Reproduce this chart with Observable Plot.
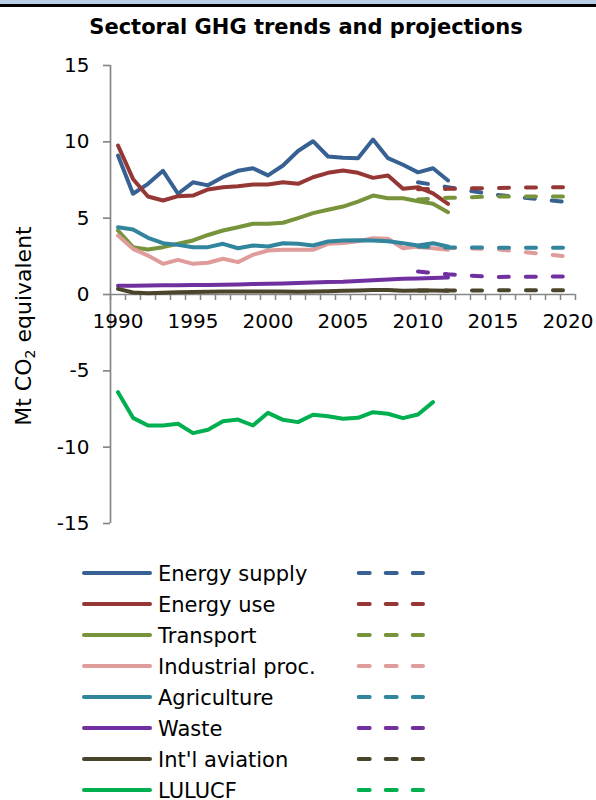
<!DOCTYPE html>
<html><head><meta charset="utf-8">
<script src="https://cdn.jsdelivr.net/npm/d3@7"></script>
<script src="https://cdn.jsdelivr.net/npm/@observablehq/plot@0.6"></script>
<style>
html,body{margin:0;padding:0;overflow:hidden;background:#fff;width:596px;height:800px;}
body{position:relative;font-family:"DejaVu Sans",Verdana,sans-serif;color:#000;}
#band{position:absolute;left:0;top:0;width:596px;height:4px;background:#B8CCE4;}
#rule{position:absolute;left:0;top:4px;width:596px;height:3px;background:#000;}
#title{position:absolute;top:8px;left:306px;transform:translateX(-50%);white-space:nowrap;font-weight:bold;font-size:21px;line-height:38px;}
#ylabel{position:absolute;left:24px;top:326px;transform:translate(-50%,-50%) rotate(-90deg);white-space:nowrap;font-size:22px;line-height:22px;}
#ylabel sub{font-size:14px;vertical-align:-4px;line-height:0;}
#chart{position:absolute;top:45px;left:0;}
#legend{position:absolute;top:558px;left:0;width:596px;}
.row{position:relative;height:31px;}
.row svg{position:absolute;left:0;top:0;}
.row span{position:absolute;left:158px;top:1px;line-height:31px;font-size:21px;white-space:nowrap;}
</style></head><body>
<div id="band"></div><div id="rule"></div>
<div id="title">Sectoral GHG trends and projections</div>
<div id="chart"></div>
<div id="ylabel"></div>
<div id="legend"></div>
<script>
const years = [1990,1991,1992,1993,1994,1995,1996,1997,1998,1999,2000,2001,2002,2003,2004,2005,2006,2007,2008,2009,2010,2011,2012];
const lulucfYears = [1990,1991,1992,1993,1994,1995,1996,1997,1998,1999,2000,2001,2002,2003,2004,2005,2006,2007,2008,2009,2010,2011];
const projYears = [2010, 2012, 2015, 2020];

const energySupply = [9.1, 6.6, 7.25, 8.1, 6.6, 7.35, 7.15, 7.7, 8.1, 8.27, 7.8, 8.45, 9.4, 10.04, 9.04, 8.95, 8.93, 10.15, 8.93, 8.5, 8.0, 8.27, 7.47];
const energyUse = [9.76, 7.57, 6.42, 6.16, 6.44, 6.48, 6.88, 7.03, 7.09, 7.2, 7.2, 7.35, 7.25, 7.68, 7.97, 8.12, 7.97, 7.64, 7.79, 6.92, 7.03, 6.63, 5.94];
const transport = [4.19, 3.1, 2.95, 3.1, 3.32, 3.54, 3.9, 4.19, 4.4, 4.63, 4.63, 4.7, 5.0, 5.33, 5.55, 5.76, 6.09, 6.48, 6.31, 6.31, 6.11, 5.94, 5.39];
const industrial = [3.86, 2.99, 2.55, 2.01, 2.27, 2.01, 2.08, 2.34, 2.12, 2.6, 2.88, 2.93, 2.93, 2.93, 3.32, 3.38, 3.49, 3.69, 3.65, 3.03, 3.14, 3.03, 2.93];
const agriculture = [4.41, 4.26, 3.71, 3.36, 3.25, 3.1, 3.1, 3.32, 3.03, 3.21, 3.14, 3.36, 3.32, 3.21, 3.47, 3.54, 3.56, 3.54, 3.49, 3.36, 3.21, 3.36, 3.14];
const waste = [0.57, 0.58, 0.59, 0.6, 0.61, 0.62, 0.63, 0.64, 0.66, 0.68, 0.7, 0.72, 0.76, 0.79, 0.82, 0.83, 0.88, 0.93, 0.98, 1.03, 1.05, 1.08, 1.12];
const aviation = [0.37, 0.13, 0.08, 0.12, 0.15, 0.17, 0.18, 0.19, 0.2, 0.2, 0.2, 0.19, 0.18, 0.19, 0.21, 0.24, 0.27, 0.3, 0.29, 0.25, 0.26, 0.27, 0.25];
const lulucf = [-6.4, -8.08, -8.58, -8.58, -8.47, -9.08, -8.86, -8.3, -8.19, -8.58, -7.75, -8.21, -8.36, -7.88, -7.97, -8.14, -8.08, -7.71, -7.81, -8.1, -7.86, -7.05];

const energySupplyProj = [7.35, 7.03, 6.55, 6.05];
const energyUseProj = [6.9, 6.92, 6.98, 7.03];
const transportProj = [6.22, 6.33, 6.42, 6.42];
const industrialProj = [3.1, 3.05, 2.99, 2.49];
const agricultureProj = [3.14, 3.08, 3.07, 3.07];
const wasteProj = [1.5, 1.32, 1.15, 1.18];
const aviationProj = [0.26, 0.26, 0.27, 0.28];
const lulucfProj = [];

const seriesNames = ["Energy supply","Energy use","Transport","Industrial proc.","Agriculture","Waste","Int'l aviation","LULUCF"];
const seriesColors = ["#386193","#953735","#77933C","#E09C9A","#31859C","#7030A0","#4A452A","#00B050"];
const historical = [energySupply, energyUse, transport, industrial, agriculture, waste, aviation, lulucf];
const projections = [energySupplyProj, energyUseProj, transportProj, industrialProj, agricultureProj, wasteProj, aviationProj, lulucfProj];

const yTicks = [-15, -10, -5, 0, 5, 10, 15];
const xLabels = [1990, 1995, 2000, 2005, 2010, 2015, 2020];
const xBoundaries = d3.range(1989.5, 2021, 1);

const axisColor = "#868686";
const font = "DejaVu Sans, Verdana, sans-serif";

document.getElementById("ylabel").innerHTML = "Mt CO<sub>2</sub> equivalent";

const lineMarks = [];
historical.forEach((vals, s) => {
  const yrs = s === 7 ? lulucfYears : years;
  const data = vals.map((v, i) => ({year: yrs[i], value: v}));
  lineMarks.push(Plot.line(data, {x: "year", y: "value", stroke: seriesColors[s], strokeWidth: 4, strokeLinejoin: "round", strokeLinecap: "round"}));
});
projections.forEach((vals, s) => {
  if (!vals.length) return;
  const data = vals.map((v, i) => ({year: projYears[i], value: v}));
  lineMarks.push(Plot.line(data, {x: "year", y: "value", stroke: seriesColors[s], strokeWidth: 4, strokeLinecap: "round", strokeDasharray: "10,17"}));
});

const chart = Plot.plot({
  width: 596, height: 490,
  marginTop: 20, marginBottom: 12, marginLeft: 110, marginRight: 21,
  style: {fontFamily: font, fontSize: "20px", color: "#000", background: "transparent", overflow: "visible"},
  x: {domain: [1989.5, 2020.5], axis: null},
  y: {domain: [-15, 15], axis: null},
  marks: [
    Plot.axisY({ticks: yTicks, tickSize: 7, tickPadding: 14, stroke: axisColor, strokeWidth: 1.7, fill: "#000", fontSize: 20, label: null, tickFormat: d => String(d)}),
    Plot.ruleX([1989.5], {y1: -15, y2: 15, stroke: axisColor, strokeWidth: 1.7}),
    Plot.ruleX(xBoundaries, {x: d => d, y1: () => 0, y2: () => 0, insetBottom: -6, stroke: axisColor, strokeWidth: 1.5}),
    Plot.ruleY([0], {stroke: axisColor, strokeWidth: 1.7}),
    Plot.text(xLabels, {x: d => d, y: () => 0, text: d => String(d), dy: 27.5, fontSize: 20, fill: "#000"}),
    ...lineMarks
  ]
});
document.getElementById("chart").appendChild(chart);

// legend
const legend = document.getElementById("legend");
const ns = "http://www.w3.org/2000/svg";
seriesNames.forEach((name, s) => {
  const row = document.createElement("div");
  row.className = "row";
  const svg = document.createElementNS(ns, "svg");
  svg.setAttribute("width", 596); svg.setAttribute("height", 31);
  const solid = document.createElementNS(ns, "line");
  solid.setAttribute("x1", 84); solid.setAttribute("x2", 150);
  solid.setAttribute("y1", 15); solid.setAttribute("y2", 15);
  solid.setAttribute("stroke", seriesColors[s]); solid.setAttribute("stroke-width", 4);
  solid.setAttribute("stroke-linecap", "round");
  const dash = document.createElementNS(ns, "line");
  dash.setAttribute("x1", 358.7); dash.setAttribute("x2", 423);
  dash.setAttribute("y1", 15); dash.setAttribute("y2", 15);
  dash.setAttribute("stroke", seriesColors[s]); dash.setAttribute("stroke-width", 4);
  dash.setAttribute("stroke-linecap", "round"); dash.setAttribute("stroke-dasharray", "11,16");
  svg.appendChild(solid); svg.appendChild(dash);
  const span = document.createElement("span");
  span.textContent = name;
  row.appendChild(svg); row.appendChild(span);
  legend.appendChild(row);
});
</script>
</body></html>
